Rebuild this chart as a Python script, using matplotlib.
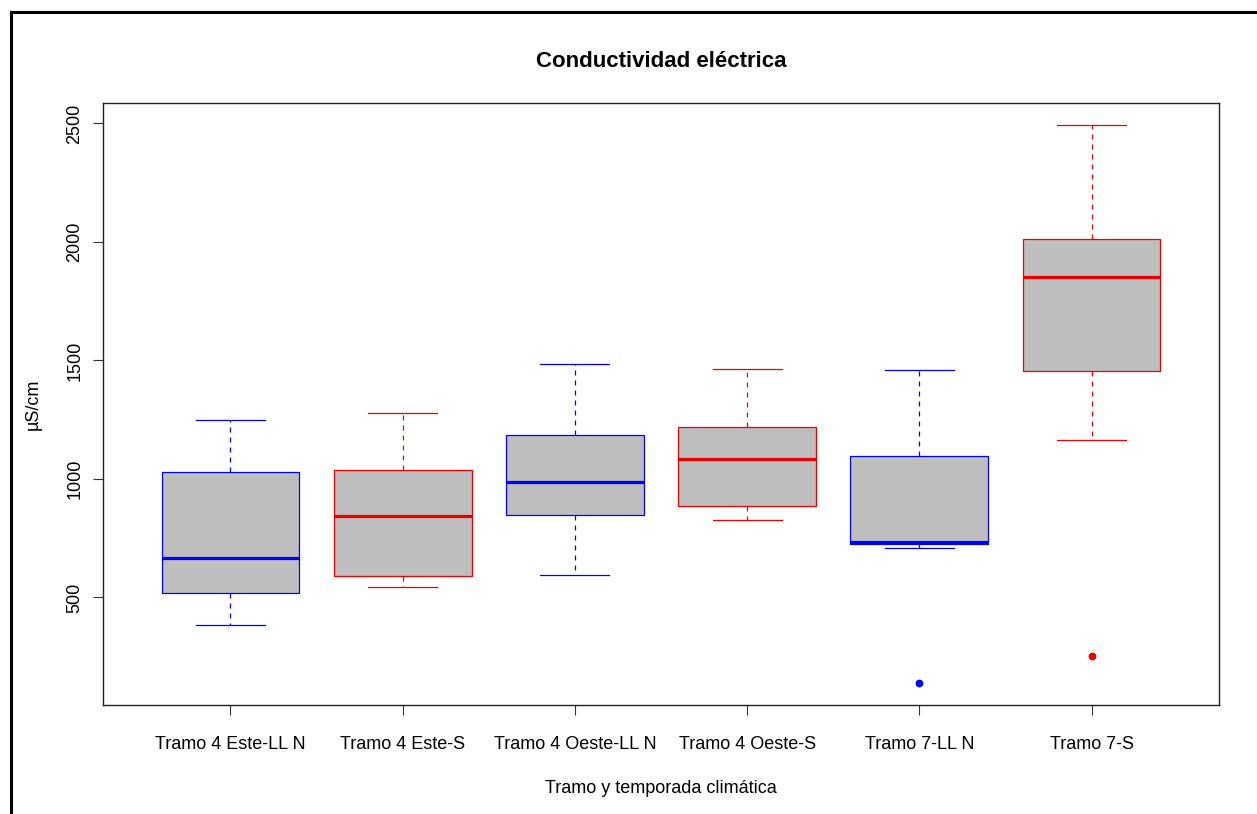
"""Boxplot of electrical conductivity by stretch and climatic season."""

import matplotlib.pyplot as plt
from matplotlib.lines import Line2D

plt.rcParams["font.family"] = ["Liberation Sans", "DejaVu Sans"]

GROUPS = [
    "Tramo 4 Este-LL N",
    "Tramo 4 Este-S",
    "Tramo 4 Oeste-LL N",
    "Tramo 4 Oeste-S",
    "Tramo 7-LL N",
    "Tramo 7-S",
]
WHISKER_LOW = [383, 543, 593, 826, 710, 1163]
Q1 = [517, 590, 848, 887, 724, 1454]
MEDIAN = [666, 842, 987, 1086, 735, 1853]
Q3 = [1027, 1036, 1185, 1221, 1098, 2011]
WHISKER_HIGH = [1249, 1278, 1483, 1464, 1460, 2492]
OUTLIERS = [[], [], [], [], [140], [252]]
SEASON_COLORS = ["#0000ff", "#ee0000", "#0000ff", "#ee0000", "#0000ff", "#ee0000"]
Y_TICKS = [500, 1000, 1500, 2000, 2500]


def build_stats():
    stats = []
    for i, name in enumerate(GROUPS):
        stats.append({
            "label": name,
            "whislo": WHISKER_LOW[i],
            "q1": Q1[i],
            "med": MEDIAN[i],
            "q3": Q3[i],
            "whishi": WHISKER_HIGH[i],
            "fliers": OUTLIERS[i],
        })
    return stats


def main() -> None:
    fig = plt.figure(figsize=(12.57, 8.14), dpi=100)
    ax = fig.add_axes([103 / 1257, 1 - 705 / 814, 1116 / 1257, 602 / 814])

    positions = list(range(1, len(GROUPS) + 1))
    parts = ax.bxp(
        build_stats(),
        positions=positions,
        widths=0.8,
        capwidths=0.4,
        patch_artist=True,
        manage_ticks=False,
    )

    for i, color in enumerate(SEASON_COLORS):
        box = parts["boxes"][i]
        box.set_facecolor("#bebebe")
        box.set_edgecolor(color)
        box.set_linewidth(0.9)
        parts["medians"][i].set_color(color)
        parts["medians"][i].set_linewidth(2.3)
        parts["medians"][i].set_solid_capstyle("butt")
        for w in parts["whiskers"][2 * i:2 * i + 2]:
            w.set_color(color)
            w.set_linewidth(0.9)
            w.set_linestyle((0, (4, 4)))
        for c in parts["caps"][2 * i:2 * i + 2]:
            c.set_color(color)
            c.set_linewidth(0.9)
        flier = parts["fliers"][i]
        flier.set_marker("o")
        flier.set_markerfacecolor(color)
        flier.set_markeredgecolor(color)
        flier.set_markersize(4.6)

    ax.set_xlim(0.26, 6.74)
    ax.set_ylim(46, 2586)
    ax.set_xticks(positions)
    ax.set_xticklabels(GROUPS, fontsize=13)
    ax.set_yticks(Y_TICKS)
    ax.set_yticklabels([str(t) for t in Y_TICKS], fontsize=13, rotation=90, va="center")
    ax.tick_params(axis="both", length=7, width=0.8, color="#333333")
    ax.tick_params(axis="y", pad=7)
    ax.tick_params(axis="x", pad=15)
    for spine in ax.spines.values():
        spine.set_linewidth(1.0)
        spine.set_color("#222222")

    ax.set_title("Conductividad eléctrica", fontsize=16, fontweight="bold", pad=26)
    ax.set_ylabel("µS/cm", fontsize=13, labelpad=18)
    ax.set_xlabel("Tramo y temporada climática", fontsize=13, labelpad=20)

    # outer frame on the left and top edges
    fig.add_artist(Line2D([11 / 1257, 11 / 1257], [0, 1 - 12 / 814], color="black", linewidth=2.2,
                          transform=fig.transFigure))
    fig.add_artist(Line2D([11 / 1257, 1], [1 - 12 / 814, 1 - 12 / 814], color="black", linewidth=2.2,
                          transform=fig.transFigure))

    fig.savefig("out.png", dpi=100)
    plt.close(fig)


if __name__ == "__main__":
    main()
